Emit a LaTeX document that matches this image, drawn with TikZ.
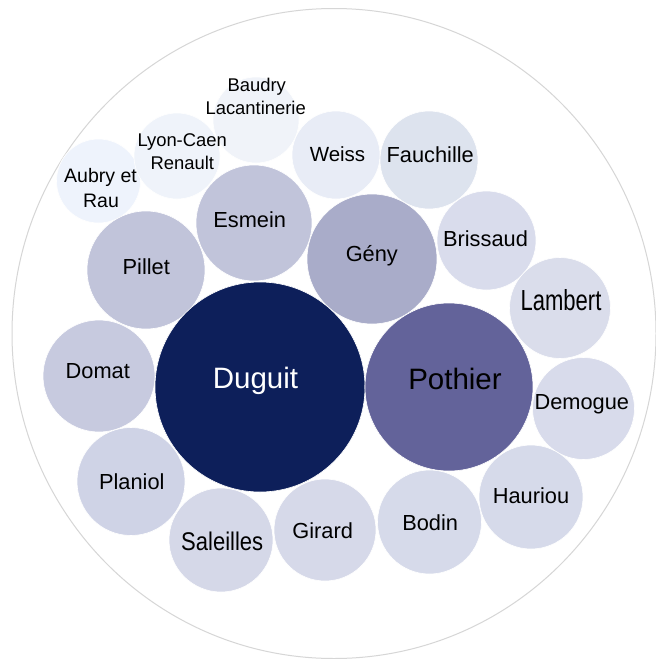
\documentclass[tikz,border=0pt]{standalone}
\usepackage{fontspec}
\setmainfont{Liberation Sans}
\definecolor{cDuguit}{HTML}{0D1F5A}
\definecolor{cPothier}{HTML}{63639A}
\definecolor{cGeny}{HTML}{A9ACC9}
\definecolor{cEsmein}{HTML}{C1C4DA}
\definecolor{cPillet}{HTML}{C1C4DA}
\definecolor{cDomat}{HTML}{C7CADF}
\definecolor{cPlaniol}{HTML}{CFD3E6}
\definecolor{cSaleilles}{HTML}{D5D8E8}
\definecolor{cGirard}{HTML}{D6D9E9}
\definecolor{cBodin}{HTML}{D6DAEA}
\definecolor{cHauriou}{HTML}{D6DAEA}
\definecolor{cDemogue}{HTML}{D8DBEB}
\definecolor{cLambert}{HTML}{DADDEB}
\definecolor{cBrissaud}{HTML}{D9DCEC}
\definecolor{cFauchille}{HTML}{DDE3EE}
\definecolor{cWeiss}{HTML}{E8ECF6}
\definecolor{cBaudry}{HTML}{F0F3F9}
\definecolor{cLyon}{HTML}{EFF3FA}
\definecolor{cAubry}{HTML}{EEF3FC}
\definecolor{ringgray}{HTML}{D6D6D6}
\tikzset{
  bub/.style={circle, inner sep=0pt, draw=white, line width=0.6pt, fill=#1},
  lab/.style={anchor=base, inner sep=0pt, text=black, font=\fontsize{21.8}{24}\selectfont},
  smalllab/.style={anchor=base, inner sep=0pt, text=black, font=\fontsize{18.4}{20}\selectfont},
}
\begin{document}
\begin{tikzpicture}[x=1pt,y=-1pt]
\useasboundingbox (0,0) rectangle (656,659);
\fill[white] (0,0) rectangle (656,659);
\draw[ringgray, line width=1pt] (334,333.5) ellipse [x radius=322, y radius=325];
% bubbles
\node[bub=cAubry, minimum size=84pt] (aubry) at (98.5,181) {};
\node[bub=cLyon, minimum size=86pt] (lyon) at (177,156) {};
\node[bub=cBaudry, minimum size=86pt] (baudry) at (256,120) {};
\node[bub=cWeiss, minimum size=88pt] (weiss) at (336,155) {};
\node[bub=cFauchille, minimum size=98pt] (fauchille) at (429,160) {};
\node[bub=cEsmein, minimum size=116pt] (esmein) at (254,223) {};
\node[bub=cGeny, minimum size=130pt] (geny) at (372,259) {};
\node[bub=cBrissaud, minimum size=99pt] (brissaud) at (486.5,240.5) {};
\node[bub=cPillet, minimum size=118pt] (pillet) at (146,270) {};
\node[bub=cLambert, minimum size=101pt] (lambert) at (560,308) {};
\node[bub=cDomat, minimum size=112pt] (domat) at (99,376) {};
\node[bub=cDuguit, minimum size=210pt] (duguit) at (260,387) {};
\node[bub=cPothier, minimum size=168pt] (pothier) at (449,387) {};
\node[bub=cDemogue, minimum size=102pt] (demogue) at (583.5,408.5) {};
\node[bub=cPlaniol, minimum size=108pt] (planiol) at (131,481.5) {};
\node[bub=cHauriou, minimum size=104pt] (hauriou) at (531,497) {};
\node[bub=cBodin, minimum size=104pt] (bodin) at (429.5,522) {};
\node[bub=cGirard, minimum size=102pt] (girard) at (325,530) {};
\node[bub=cSaleilles, minimum size=104pt] (saleilles) at (221,540) {};
% labels
\node[lab, text=white, font=\fontsize{29.5}{31}\selectfont] (tduguit) at (255.5,388) {Duguit};
\node[lab, font=\fontsize{29.5}{31}\selectfont] (tpothier) at (455,389) {Pothier};
\node[lab] (tesmein) at (249.7,227) {Esmein};
\node[lab] (tpillet) at (146.3,274) {Pillet};
\node[lab] (tgeny) at (371.8,261) {Gény};
\node[lab] (tbrissaud) at (485.5,246.7) {Brissaud};
\node[lab] (tfauchille) at (430.2,162.7) {Fauchille};
\node[lab, font=\fontsize{20.5}{22}\selectfont] (tweiss) at (337.5,161.7) {Weiss};
\node[lab, font=\fontsize{29}{31}\selectfont, xscale=0.76] (tlambert) at (561,310) {Lambert};
\node[lab] (tdemogue) at (581.8,409.3) {Demogue};
\node[lab] (thauriou) at (531,503.7) {Hauriou};
\node[lab] (tbodin) at (430.2,530.7) {Bodin};
\node[lab] (tgirard) at (322.7,538.3) {Girard};
\node[lab, font=\fontsize{25.6}{27}\selectfont, xscale=0.86] (tsaleilles) at (222.2,550) {Saleilles};
\node[lab] (tplaniol) at (131.8,489.3) {Planiol};
\node[lab] (tdomat) at (97.8,378.3) {Domat};
\node[smalllab, font=\fontsize{19.5}{21}\selectfont] (taubry1) at (100.5,182) {Aubry et};
\node[smalllab, font=\fontsize{19.5}{21}\selectfont] (taubry2) at (101,207) {Rau};
\node[smalllab] (tlyon1) at (182.2,146.7) {Lyon-Caen};
\node[smalllab] (tlyon2) at (182.3,169) {Renault};
\node[smalllab] (tbaudry1) at (256.7,91.7) {Baudry};
\node[smalllab] (tbaudry2) at (255.7,114.3) {Lacantinerie};
\end{tikzpicture}
\end{document}
